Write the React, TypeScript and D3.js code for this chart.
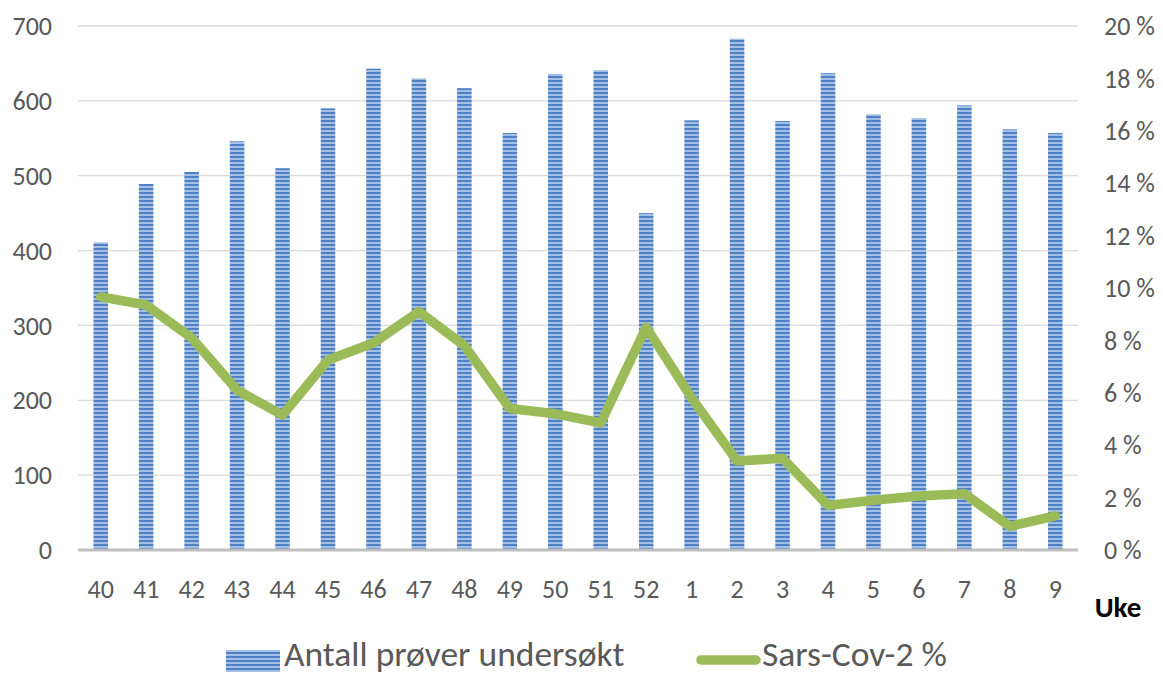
import React from "react";
import * as d3 from "d3";

const weeks = ["40","41","42","43","44","45","46","47","48","49","50","51","52","1","2","3","4","5","6","7","8","9"];
const samples = [411, 489, 505, 546, 510, 590, 643, 630, 617, 557, 636, 641, 450, 574, 683, 573, 637, 582, 577, 594, 562, 557];
const positivePct = [9.66, 9.35, 8.1, 6.1, 5.15, 7.25, 7.9, 9.1, 7.8, 5.4, 5.2, 4.85, 8.5, 5.8, 3.4, 3.5, 1.7, 1.9, 2.06, 2.15, 0.9, 1.3];
const leftTicks = [0, 100, 200, 300, 400, 500, 600, 700];
const rightTicks = [0, 2, 4, 6, 8, 10, 12, 14, 16, 18, 20];
const barLabel = "Antall prøver undersøkt";
const lineLabel = "Sars-Cov-2 %";
const axisTitle = "Uke";

const W = 1163, H = 677;
const left = 78, right = 1078, top = 26, bottom = 550;
const font = "Carlito, 'Open Sans', 'Liberation Sans', sans-serif";

export default function App() {
  const x = d3.scaleBand<string>().domain(weeks).range([left, right]).paddingInner(0.68).paddingOuter(0.34);
  const yL = d3.scaleLinear().domain([0, 700]).range([bottom, top]);
  const yR = d3.scaleLinear().domain([0, 20]).range([bottom, top]);
  const line = d3.line<number>()
    .x((_, i) => (x(weeks[i]) as number) + x.bandwidth() / 2)
    .y((d) => yR(d));

  return (
    <svg width={W} height={H} style={{ position: "absolute", left: 0, top: 0, background: "#fff" }}>
      <defs>
        <pattern id="stripes" patternUnits="userSpaceOnUse" width="8" height="4">
          <rect x="0" y="0" width="8" height="4" fill="#a3bfe6" />
          <rect x="0" y="0" width="8" height="2" fill="#4f81c4" />
        </pattern>
      </defs>
      {leftTicks.slice(1).map((t) => (
        <line key={t} x1={left} x2={right} y1={yL(t)} y2={yL(t)} stroke="#d9d9d9" strokeWidth={1.3} />
      ))}
      {samples.map((v, i) => (
        <rect key={i} x={x(weeks[i])} y={yL(v)} width={x.bandwidth()} height={bottom - yL(v)} fill="url(#stripes)" />
      ))}
      <line x1={left} x2={right} y1={bottom} y2={bottom} stroke="#bfbfbf" strokeWidth={3} />
      <path d={line(positivePct) || ""} fill="none" stroke="#9bbb59" strokeWidth={9.5} strokeLinejoin="round" strokeLinecap="round" />
      {leftTicks.map((t) => (
        <text key={t} x={52} y={yL(t)} dy="0.35em" textAnchor="end" fontFamily={font} fontSize={26} fill="#595959">{t}</text>
      ))}
      {rightTicks.map((t) => (
        <text key={t} x={1104} y={yR(t)} dy="0.35em" textAnchor="start" fontFamily={font} fontSize={26} fill="#595959">{t} %</text>
      ))}
      {weeks.map((w) => (
        <text key={w} x={(x(w) as number) + x.bandwidth() / 2} y={589} dy="0.35em" textAnchor="middle" fontFamily={font} fontSize={26} fill="#595959">{w}</text>
      ))}
      <text x={1118} y={607} dy="0.35em" textAnchor="middle" fontFamily={font} fontSize={29} fontWeight="bold" fill="#000">{axisTitle}</text>
      <rect x={226} y={650} width={54} height={22} fill="url(#stripes)" />
      <text x={284} y={666} fontFamily={font} fontSize={35.5} fill="#595959">{barLabel}</text>
      <line x1={701} x2={756} y1={660} y2={660} stroke="#9bbb59" strokeWidth={9.5} strokeLinecap="round" />
      <text x={762} y={666} fontFamily={font} fontSize={35.5} fill="#595959">{lineLabel}</text>
    </svg>
  );
}
